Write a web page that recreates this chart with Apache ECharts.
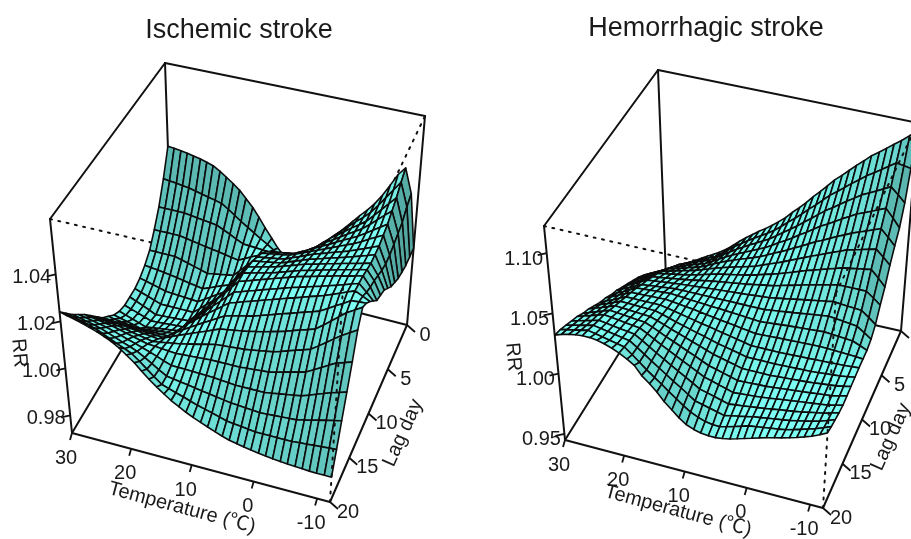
<!DOCTYPE html>
<html><head><meta charset="utf-8">
<style>html,body{margin:0;padding:0;background:#fff}#c{width:911px;height:539px}</style>
<script src="https://cdn.jsdelivr.net/npm/echarts@6/dist/echarts.min.js"></script>
</head><body><div id="c"></div>
<script>
// mesh axes
const temps=[30,28.9,27.7,26.6,25.5,24.3,23.2,22.1,20.9,19.8,18.6,17.5,16.4,15.2,14.1,13,11.8,10.7,9.6,8.4,7.3,6.1,5,3.9,2.7,1.6,0.5,-0.7,-1.8,-2.9,-4.1,-5.2,-6.4,-7.5,-8.6,-9.7,-10.9,-12];
const lags=[0,1,2,3,4,5,6,7,8,9,10,11,12,13,14,15,16,17,18,19,20];
// tick labels
const tempTicks=[30,20,10,0,-10];
const lagTicks=[0,5,10,15,20];
const ischemicTicks=[0.98,1.00,1.02,1.04];
const hemorrhagicTicks=[0.95,1.00,1.05,1.10];
// RR x 10000: one row per lag day, one column per temperature
const ischemicRR=[
[10260,10257,10253,10248,10242,10235,10227,10218,10200,10180,10158,10135,10105,10072,10035,9995,9955,9918,9890,9875,9872,9882,9905,9940,9978,10015,10050,10082,10114,10146,10178,10212,10258,10308,10360,10395,10290,10060],
[10150,10146,10143,10139,10135,10128,10121,10114,10107,10100,10080,10060,10040,10020,10002,9984,9966,9948,9930,9936,9943,9949,9955,9985,10015,10045,10075,10102,10129,10156,10183,10210,10250,10290,10330,10370,10270,10060],
[10060,10060,10060,10060,10060,10056,10052,10048,10044,10040,10026,10013,9999,9985,9983,9981,9979,9977,9978,9985,9990,9995,10000,10025,10050,10075,10100,10122,10144,10166,10188,10210,10243,10275,10308,10340,10240,10060],
[9995,9995,9995,9995,9995,9990,9985,9980,9975,9970,9965,9960,9955,9950,9964,9978,9992,10006,10020,10025,10030,10035,10040,10060,10080,10100,10120,10139,10158,10177,10196,10215,10241,10268,10294,10320,10230,10070],
[9940,9940,9940,9940,9940,9932,9924,9916,9908,9900,9905,9910,9915,9920,9948,9976,10004,10032,10060,10065,10070,10075,10080,10095,10110,10125,10140,10156,10172,10188,10204,10220,10240,10260,10280,10300,10220,10080],
[9910,9906,9903,9899,9895,9890,9885,9880,9875,9870,9881,9893,9904,9915,9950,9985,10020,10055,10090,10095,10100,10105,10110,10123,10135,10148,10160,10173,10186,10199,10212,10225,10241,10258,10274,10290,10210,10100],
[9890,9883,9875,9868,9860,9858,9856,9854,9852,9850,9868,9885,9903,9920,9958,9996,10034,10072,10110,10115,10120,10125,10130,10143,10155,10168,10180,10190,10200,10210,10220,10230,10243,10255,10268,10280,10210,10120],
[9880,9870,9860,9850,9840,9840,9840,9840,9840,9840,9864,9888,9911,9935,9974,10013,10052,10091,10130,10135,10140,10145,10150,10161,10173,10184,10195,10204,10213,10222,10231,10240,10250,10260,10270,10280,10220,10150],
[9880,9868,9855,9843,9830,9832,9834,9836,9838,9840,9868,9895,9923,9950,9988,10026,10064,10102,10140,10148,10155,10163,10170,10180,10190,10200,10210,10218,10226,10234,10242,10250,10258,10265,10273,10280,10235,10180],
[9880,9870,9860,9850,9840,9842,9844,9846,9848,9850,9880,9910,9940,9970,10006,10042,10078,10114,10150,10158,10165,10173,10180,10190,10200,10210,10220,10228,10236,10244,10252,10260,10268,10275,10283,10290,10250,10195],
[9890,9880,9870,9860,9850,9854,9858,9862,9866,9870,9900,9930,9960,9990,10022,10054,10086,10118,10150,10160,10170,10180,10190,10200,10210,10220,10230,10238,10246,10254,10262,10270,10278,10285,10293,10300,10260,10210],
[9910,9903,9895,9888,9880,9883,9886,9889,9892,9895,9923,9950,9978,10005,10032,10059,10086,10113,10140,10150,10160,10170,10180,10190,10200,10210,10220,10229,10238,10247,10256,10265,10275,10285,10295,10305,10275,10245],
[9940,9935,9930,9925,9920,9920,9920,9920,9920,9920,9945,9970,9995,10020,10042,10064,10086,10108,10130,10140,10150,10160,10170,10180,10190,10200,10210,10220,10230,10240,10250,10260,10273,10285,10298,10310,10295,10280],
[9970,9968,9965,9963,9960,9958,9956,9954,9952,9950,9969,9988,10006,10025,10042,10059,10076,10093,10110,10118,10125,10133,10140,10150,10160,10170,10180,10190,10200,10210,10220,10230,10249,10268,10286,10305,10308,10310],
[10010,10008,10005,10003,10000,9996,9992,9988,9984,9980,9993,10005,10018,10030,10042,10054,10066,10078,10090,10095,10100,10105,10110,10118,10125,10133,10140,10150,10160,10170,10180,10190,10215,10240,10265,10290,10310,10330],
[10050,10046,10043,10039,10035,10029,10023,10017,10011,10005,10010,10015,10020,10025,10032,10039,10046,10053,10060,10063,10065,10068,10070,10075,10080,10085,10090,10100,10110,10120,10130,10140,10163,10185,10208,10230,10250,10270],
[10090,10085,10080,10075,10070,10062,10054,10046,10038,10030,10028,10025,10023,10020,10022,10024,10026,10028,10030,10030,10030,10030,10030,10033,10035,10038,10040,10048,10056,10064,10072,10080,10098,10115,10133,10150,10160,10170],
[10125,10119,10113,10106,10100,10090,10080,10070,10060,10050,10039,10028,10016,10005,10004,10003,10002,10001,10000,9998,9995,9993,9990,9990,9990,9990,9990,9995,10000,10005,10010,10015,10026,10038,10049,10060,10070,10080],
[10160,10153,10145,10138,10130,10118,10106,10094,10082,10070,10051,10033,10014,9995,9990,9985,9980,9975,9970,9965,9960,9955,9950,9948,9945,9943,9940,9942,9944,9946,9948,9950,9958,9965,9973,9980,9988,9995],
[10200,10191,10183,10174,10165,10151,10137,10123,10109,10095,10070,10045,10020,9995,9985,9975,9965,9955,9945,9936,9928,9919,9910,9906,9903,9899,9895,9895,9895,9895,9895,9895,9898,9900,9903,9905,9908,9910],
[10240,10232,10224,10215,10205,10194,10181,10167,10148,10125,10100,10072,10045,10020,9998,9978,9960,9944,9930,9917,9905,9893,9882,9873,9866,9860,9855,9850,9846,9842,9839,9837,9835,9833,9831,9830,9830,9830]
];
const hemorrhagicRR=[
[9500,9533,9565,9598,9630,9660,9690,9720,9750,9780,9818,9860,9905,9950,9988,10026,10064,10102,10145,10195,10250,10305,10360,10420,10480,10540,10600,10654,10708,10762,10816,10870,10915,10960,11005,11050,11105,11160],
[9560,9593,9625,9658,9690,9714,9738,9762,9786,9810,9850,9890,9930,9970,10004,10038,10072,10106,10140,10188,10235,10283,10330,10383,10435,10488,10540,10586,10632,10678,10724,10770,10810,10850,10890,10930,10920,10910],
[9630,9660,9690,9720,9750,9770,9790,9810,9830,9850,9885,9920,9955,9990,10020,10050,10080,10110,10140,10180,10220,10260,10300,10345,10390,10435,10480,10520,10560,10600,10640,10680,10710,10740,10770,10800,10745,10690],
[9690,9718,9745,9773,9800,9818,9836,9854,9872,9890,9920,9950,9980,10010,10035,10060,10085,10110,10135,10169,10203,10236,10270,10308,10345,10383,10420,10454,10488,10522,10556,10590,10615,10640,10665,10690,10620,10550],
[9750,9775,9800,9825,9850,9866,9882,9898,9914,9930,9955,9980,10005,10030,10050,10070,10090,10110,10130,10158,10185,10213,10240,10270,10300,10330,10360,10388,10416,10444,10472,10500,10523,10545,10568,10590,10530,10470],
[9800,9825,9850,9875,9900,9914,9928,9942,9956,9970,9989,10008,10026,10045,10060,10075,10090,10105,10120,10143,10165,10188,10210,10235,10260,10285,10310,10334,10358,10382,10406,10430,10445,10460,10475,10490,10435,10380],
[9840,9868,9895,9923,9950,9960,9970,9980,9990,10000,10015,10030,10045,10060,10071,10082,10093,10104,10115,10131,10148,10164,10180,10200,10220,10240,10260,10278,10296,10314,10332,10350,10360,10370,10380,10390,10330,10270],
[9880,9908,9935,9963,9990,9998,10006,10014,10022,10030,10040,10050,10060,10070,10078,10086,10094,10102,10110,10120,10130,10140,10150,10165,10180,10195,10210,10224,10238,10252,10266,10280,10280,10280,10280,10280,10235,10190],
[9920,9948,9975,10003,10030,10036,10042,10048,10054,10060,10065,10070,10075,10080,10084,10088,10092,10096,10100,10105,10110,10115,10120,10130,10140,10150,10160,10170,10180,10190,10200,10210,10205,10200,10195,10190,10145,10100],
[9960,9985,10010,10035,10060,10066,10072,10078,10084,10090,10090,10090,10090,10090,10090,10090,10090,10090,10090,10090,10090,10090,10090,10098,10105,10113,10120,10128,10136,10144,10152,10160,10153,10145,10138,10130,10090,10050],
[9990,10018,10045,10073,10100,10104,10108,10112,10116,10120,10115,10110,10105,10100,10096,10092,10088,10084,10080,10075,10070,10065,10060,10065,10070,10075,10080,10084,10088,10092,10096,10100,10095,10090,10085,10080,10055,10030],
[10030,10055,10080,10105,10130,10132,10134,10136,10138,10140,10133,10125,10118,10110,10101,10092,10083,10074,10065,10056,10048,10039,10030,10033,10035,10038,10040,10042,10044,10046,10048,10050,10048,10045,10043,10040,10035,10030],
[10060,10085,10110,10135,10160,10160,10160,10160,10160,10160,10148,10135,10123,10110,10098,10086,10074,10062,10050,10038,10025,10013,10000,10000,10000,10000,10000,10002,10004,10006,10008,10010,10013,10015,10018,10020,10025,10030],
[10100,10123,10145,10168,10190,10188,10186,10184,10182,10180,10163,10145,10128,10110,10094,10078,10062,10046,10030,10016,10003,9989,9975,9975,9975,9975,9975,9977,9979,9981,9983,9985,9990,9995,10000,10005,10015,10025],
[10140,10160,10180,10200,10220,10216,10212,10208,10204,10200,10179,10158,10136,10115,10094,10073,10052,10031,10010,9995,9980,9965,9950,9950,9950,9950,9950,9954,9958,9962,9966,9970,9976,9983,9989,9995,10008,10020],
[10170,10190,10210,10230,10250,10244,10238,10232,10226,10220,10194,10168,10141,10115,10089,10063,10037,10011,9985,9969,9953,9936,9920,9923,9925,9928,9930,9936,9942,9948,9954,9960,9966,9973,9979,9985,10000,10015],
[10210,10228,10245,10263,10280,10272,10264,10256,10248,10240,10208,10175,10143,10110,10080,10050,10020,9990,9960,9943,9925,9908,9890,9895,9900,9905,9910,9918,9926,9934,9942,9950,9958,9965,9973,9980,9995,10010],
[10240,10255,10270,10285,10300,10291,10282,10273,10264,10255,10218,10180,10143,10105,10070,10035,10000,9965,9930,9914,9898,9881,9865,9873,9880,9888,9895,9904,9913,9922,9931,9940,9951,9963,9974,9985,10003,10020],
[10270,10284,10298,10311,10325,10314,10303,10292,10281,10270,10228,10185,10143,10100,10060,10020,9980,9940,9900,9885,9870,9855,9840,9853,9865,9878,9890,9899,9908,9917,9926,9935,9949,9963,9976,9990,10013,10035],
[10300,10313,10325,10338,10350,10337,10324,10311,10298,10285,10236,10188,10139,10090,10050,10003,9958,9915,9878,9850,9830,9820,9818,9832,9850,9868,9885,9894,9903,9912,9921,9930,9948,9965,9983,10000,10025,10050],
[10320,10340,10355,10366,10372,10372,10365,10350,10328,10302,10268,10230,10160,10108,10054,9990,9935,9885,9845,9820,9805,9798,9798,9805,9818,9835,9852,9870,9888,9905,9920,9935,9952,9970,9990,10010,10040,10070]
];

// view of each panel: where the eight corners of the plot box fall
const ink='#111', font="'Liberation Sans','Noto Sans CJK SC',Arial,sans-serif";
const tMax=30,tMin=-12,lagMin=0,lagMax=20;
const left={title:'Ischemic stroke',titleX:234,titleY:27,rr:ischemicRR,ticks:ischemicTicks,tickFmt:2,zMin:0.9725,zMax:1.0635,
  A:[72,433],B:[330,502],C:[407,325],D:[172,265],At:[50,219],Bt:[343,287],Ct:[425,116],Dt:[165,63],
  rrName:[19,353],tempName:[182,508],lagName:[403,433],rrLab:[-24,3],frontDots:false};
const right={title:'Hemorrhagic stroke',titleX:701,titleY:25,rr:hemorrhagicRR,ticks:hemorrhagicTicks,tickFmt:2,zMin:0.945,zMax:1.1225,
  A:[565,440],B:[823,508],C:[901,331],D:[666,278],At:[544,226],Bt:[836,293],Ct:[918,123],Dt:[658,70],
  rrName:[513,357],tempName:[678,511],lagName:[891,437],rrLab:[-23,6],frontDots:true};

function mix(a,b,t){return [a[0]+(b[0]-a[0])*t,a[1]+(b[1]-a[1])*t];}
function box(p,u,s,w){
  const bot=mix(mix(p.A,p.B,u),mix(p.D,p.C,u),s), top=mix(mix(p.At,p.Bt,u),mix(p.Dt,p.Ct,u),s);
  return mix(bot,top,w);
}
function warpU(T){const u=(tMax-T)/(tMax-tMin),q=1.05;return u/(u+q*(1-u));}
function project(p,T,L,rr){
  return box(p,warpU(T),(lagMax-L)/(lagMax-lagMin),(rr-p.zMin)/(p.zMax-p.zMin));
}
function cellFill(p,i,j){
  const g=(a,b)=>p.rr[b][a]/10000;
  const du=(tMax-temps[i+1])/(tMax-tMin)-(tMax-temps[i])/(tMax-tMin), ds=(lags[j+1]-lags[j])/(lagMax-lagMin);
  const span=p.zMax-p.zMin;
  const wu=((g(i+1,j)+g(i+1,j+1)-g(i,j)-g(i,j+1))/2)/span/du;
  const ws=-((g(i,j+1)+g(i+1,j+1)-g(i,j)-g(i+1,j))/2)/span/ds; // s grows as lag falls
  const n=Math.hypot(wu,ws,1), lu=-0.35, ls=0.35, lz=0.87;
  const d=(lu*(-wu)+ls*(-ws)+lz)/n;
  const I=Math.max(0.66,Math.min(1,0.73+0.31*d));
  return 'rgb('+Math.round(125*I)+','+Math.round(255*I)+','+Math.round(245*I)+')';
}
function surfaceSeries(p){
  const cells=[];
  for(let j=0;j<lags.length-1;j++)for(let i=0;i<temps.length-1;i++)cells.push([i,j]);
  return {type:'custom',coordinateSystem:'cartesian2d',silent:true,z:3,clip:true,data:cells,
    renderItem(params,api){
      const i=api.value(0),j=api.value(1);
      const pts=[[i,j],[i+1,j],[i+1,j+1],[i,j+1]].map(c=>api.coord(project(p,temps[c[0]],lags[c[1]],p.rr[c[1]][c[0]]/10000)));
      return {type:'polygon',shape:{points:pts},style:{fill:cellFill(p,i,j),stroke:'#0c0c0c',lineWidth:1.6,lineJoin:'round'}};
    }};
}
function edgeSeries(p,edges,dotted,z){
  return {type:'custom',coordinateSystem:'cartesian2d',silent:true,z,clip:true,data:edges.map((e,k)=>[k]),
    renderItem(params,api){
      const e=edges[api.value(0)],a=api.coord(p[e[0]]),b=api.coord(p[e[1]]);
      return {type:'line',shape:{x1:a[0],y1:a[1],x2:b[0],y2:b[1]},
        style:dotted?{stroke:ink,lineWidth:2,lineDash:[2,6.5],lineCap:'round'}:{stroke:ink,lineWidth:2,lineCap:'round'}};
    }};
}
function tickSeries(p,values,toPoint,tick,labelOff,fmt){
  return {type:'custom',coordinateSystem:'cartesian2d',silent:true,z:5,clip:true,data:values.map((v,k)=>[k]),
    renderItem(params,api){
      const v=values[api.value(0)],c=api.coord(toPoint(v));
      return {type:'group',children:[
        {type:'line',shape:{x1:c[0],y1:c[1],x2:c[0]+tick[0],y2:c[1]+tick[1]},style:{stroke:ink,lineWidth:1.8}},
        {type:'text',x:c[0]+labelOff[0],y:c[1]+labelOff[1],style:{text:fmt(v),fontSize:20,fontFamily:font,fill:'#1a1a1a',align:'center',verticalAlign:'middle'}}
      ]};
    }};
}
function axisName(text,pos,deg){
  return {type:'text',x:pos[0],y:pos[1],rotation:deg*Math.PI/180,z:6,silent:true,
    style:{text,fontSize:20,fontFamily:font,fill:'#1a1a1a',align:'center',verticalAlign:'middle'}};
}
const panels=[left,right];
const series=[],titles=[],graphics=[];
panels.forEach(p=>{
  titles.push({text:p.title,left:p.titleX,top:p.titleY-15,textAlign:'center',textStyle:{fontSize:27,fontWeight:'normal',fontFamily:font,color:'#1a1a1a'}});
  series.push(edgeSeries(p,[['A','D'],['D','C'],['D','Dt'],['C','Ct'],['A','At'],['At','Dt'],['Dt','Ct']],false,1));
  series.push(edgeSeries(p,p.frontDots?[['At','Bt']]:[['At','Bt'],['Bt','Ct']],true,2));
  series.push(surfaceSeries(p));
  series.push(edgeSeries(p,[['A','B'],['B','C']],false,4));
  series.push(edgeSeries(p,p.frontDots?[['B','Bt'],['Bt','Ct']]:[['B','Bt']],true,4));
  series.push(tickSeries(p,tempTicks,v=>project(p,v,lagMax,p.zMin),[-2,7],[-6,25],v=>String(v)));
  series.push(tickSeries(p,lagTicks,v=>project(p,tMin,v,p.zMin),[8,7],[18,10],v=>String(v)));
  series.push(tickSeries(p,p.ticks,v=>project(p,tMax,lagMax,v),[-9,2],p.rrLab,v=>v.toFixed(p.tickFmt)));
  graphics.push(axisName('RR',p.rrName,-85),axisName('Temperature (℃)',p.tempName,-15),axisName('Lag day',p.lagName,66));
});
const chart=echarts.init(document.getElementById('c'),null,{renderer:'canvas'});
chart.setOption({animation:false,backgroundColor:'#fff',title:titles,
  grid:{left:0,right:0,top:0,bottom:0},
  xAxis:{type:'value',min:0,max:911,show:false},
  yAxis:{type:'value',min:0,max:539,inverse:true,show:false},
  graphic:graphics,series});
</script></body></html>
